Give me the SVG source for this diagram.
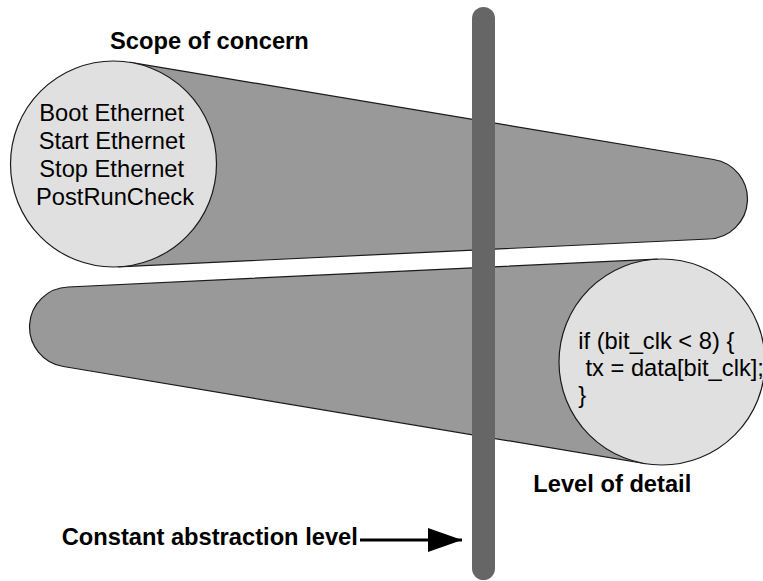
<svg xmlns="http://www.w3.org/2000/svg" width="763" height="581" viewBox="0 0 763 581">
  <style>
    .body { fill: #999999; stroke: #1a1a1a; stroke-width: 1.2; }
    .face { fill: #e0e0e0; stroke: #1a1a1a; stroke-width: 1.2; }
    .txt { font-family: "Liberation Sans", Arial, sans-serif; font-size: 23.7px; fill: #000; }
    .bold { font-weight: bold; }
  </style>
  <defs>
    <marker id="arrow" markerUnits="userSpaceOnUse" markerWidth="34" markerHeight="24" refX="34" refY="12" orient="auto">
      <path d="M0,0 L34,12 L0,24 Z" fill="#000"/>
    </marker>
  </defs>

  <g id="scope-of-concern-tube">
    <path class="body" d="M130.4,62.4 L713.6,159.5 A40,40 0 0 1 708.9,239 L118.4,266.9 Z"/>
    <circle class="face" cx="113.5" cy="164" r="103"/>
    <text class="txt" text-anchor="middle">
      <tspan x="115" y="121">Boot Ethernet</tspan>
      <tspan x="115" y="149.3">Start Ethernet</tspan>
      <tspan x="115" y="177">Stop Ethernet</tspan>
      <tspan x="115" y="205">PostRunCheck</tspan>
    </text>
  </g>

  <g id="level-of-detail-tube">
    <path class="body" d="M657.1,259.1 L68.1,287 A40,40 0 0 0 63.4,366.5 L645,463.6 Z"/>
    <circle class="face" cx="662" cy="362" r="103"/>
    <text class="txt">
      <tspan x="578.3" y="349">if (bit_clk &lt; 8) {</tspan>
      <tspan x="585.5" y="376">tx = data[bit_clk];</tspan>
      <tspan x="578.3" y="403">}</tspan>
    </text>
  </g>

  <g id="abstraction-bar">
    <line x1="483.5" y1="18.5" x2="483.5" y2="568.5" stroke="#666666" stroke-width="23" stroke-linecap="round"/>
  </g>

  <g id="labels">
    <text id="label-scope" class="txt bold" x="110" y="49">Scope of concern</text>
    <text id="label-detail" class="txt bold" x="533.3" y="492">Level of detail</text>
    <text id="label-constant" class="txt bold" x="61.7" y="545.3">Constant abstraction level</text>
  </g>

  <g id="connectors">
    <line x1="360" y1="540" x2="462" y2="540" stroke="#000" stroke-width="3" marker-end="url(#arrow)"/>
  </g>
</svg>
